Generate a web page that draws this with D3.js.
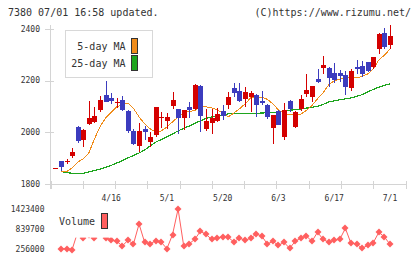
<!DOCTYPE html>
<html>
<head>
<meta charset="utf-8">
<script src="https://cdn.jsdelivr.net/npm/d3@7"></script>
<style>
body { margin: 0; background: #fff; }
svg { display: block; }
text { font-family: "DejaVu Sans Mono", monospace; fill: #333; }
</style>
</head>
<body>
<div id="chart"></div>
<script>
// one entry per trading day, index 0 = first (doji) candle
const opens  = [1863,1888,1885,1909,2020,1971,2034,2042,2087,2145,2134,2113,2126,2084,2006,1949,2014,1962,1990,2057,2045,2104,2091,2055,2100,2091,2180,2014,2038,2046,2083,2106,2172,2160,2129,2137,2145,2122,2106,2017,2083,1983,2122,2021,2092,2150,2138,2206,2250,2249,2230,2230,2222,2172,2253,2257,2272,2253,2323,2384,2338]
const highs  = [1863,1891,1898,1939,2025,2012,2122,2097,2139,2199,2154,2132,2139,2086,2015,2038,2025,2001,2100,2080,2074,2158,2092,2088,2119,2186,2184,2091,2091,2096,2106,2158,2190,2190,2175,2160,2147,2160,2110,2069,2087,2115,2126,2081,2144,2226,2181,2245,2296,2253,2269,2242,2238,2245,2280,2276,2273,2293,2384,2404,2415]
const lows   = [1863,1853,1880,1900,1958,1945,2030,2036,2080,2117,2109,2093,2084,1997,1950,1926,1971,1945,1984,2016,2014,2091,1993,2010,2055,2087,2001,2006,1993,2042,2049,2091,2135,2119,2097,2080,2061,2106,2052,1957,2027,1971,2079,2017,2084,2136,2119,2192,2226,2177,2189,2196,2145,2160,2226,2213,2234,2245,2303,2323,2323]
const closes = [1863,1868,1889,1924,1968,2010,2057,2064,2126,2119,2123,2119,2085,2007,1957,2006,2000,1984,2097,2061,2061,2126,2055,2087,2087,2184,2065,2046,2055,2072,2065,2135,2151,2123,2158,2153,2106,2114,2060,2068,2029,2087,2091,2078,2128,2164,2180,2195,2261,2212,2203,2218,2177,2238,2245,2226,2238,2292,2381,2330,2373]

const ma5  = [null,1849,1849,1863,1886,1898,1921,1975,2022,2056,2077,2099,2108,2113,2093,2060,2033,2014,2002,2006,2021,2041,2060,2075,2081,2085,2099,2099,2095,2087,2075,2060,2075,2091,2110,2133,2138,2136,2128,2110,2087,2073,2070,2070,2070,2085,2104,2130,2153,2184,2199,2206,2213,2211,2211,2216,2226,2245,2280,2298,2322]
const ma25 = [null,1849,1846,1842,1842,1842,1848,1853,1858,1865,1873,1882,1891,1902,1911,1921,1932,1948,1963,1973,1983,1994,2006,2016,2025,2035,2045,2054,2060,2065,2068,2072,2074,2074,2074,2074,2074,2075,2076,2077,2079,2083,2086,2088,2090,2094,2097,2101,2108,2118,2122,2126,2130,2133,2139,2146,2157,2166,2175,2182,2187]

const volumes = [null,279000,279000,256000,760000,587000,680000,587000,720000,590000,521000,492000,357000,521000,415000,991000,463000,415000,510000,463000,279000,683000,1423400,366000,423000,550000,781000,694000,550000,596000,616000,607000,472000,587000,521000,578000,703000,645000,415000,492000,377000,463000,290000,492000,587000,645000,492000,752000,550000,463000,521000,550000,867000,434000,415000,290000,377000,452000,752000,616000,406000]

const dateLabels = ["4/16","5/1","5/20","6/3","6/17","7/1"]
const dateIndex = [10,20,30,40,50,60]
const priceTicks = [1800,2000,2200,2400]
const volumeTicks = [256000,839700,1423400]

const width = 420
const height = 259
const red = "#d40000"
const blue = "#3c3cbe"
const orange = "#f08c1a"
const green = "#1ea51e"
const volColor = "#ff5f5f"

const svg = d3.select("#chart").append("svg").attr("width", width).attr("height", height)

const x = d3.scaleLinear().domain([0, opens.length - 1]).range([55.4, 390])
const y = d3.scaleLinear().domain([1800, 2400]).range([184.3, 28.8])
const yv = d3.scaleLinear().domain([256000, 1423400]).range([249.5, 209])
const grid = d3.scaleLinear().domain([0, 11]).range([50.5, 405.5])

// header
svg.append("text").attr("x", 8).attr("y", 16).style("font-size", "10px").text("7380 07/01 16:58 updated.")
svg.append("text").attr("x", 411).attr("y", 16).attr("text-anchor", "end").style("font-size", "10px").text("(C)https://www.rizumu.net/")

// axes
const axes = svg.append("g").attr("stroke", "#d4d4d4").attr("shape-rendering", "crispEdges")
axes.append("line").attr("x1", 50.5).attr("x2", 50.5).attr("y1", 25).attr("y2", 189)
axes.append("line").attr("x1", 45).attr("x2", 406).attr("y1", Math.round(y(1800)) + 0.5).attr("y2", Math.round(y(1800)) + 0.5)
axes.selectAll(".yt").data(priceTicks).enter().append("line")
    .attr("x1", 45).attr("x2", 54).attr("y1", d => Math.round(y(d)) + 0.5).attr("y2", d => Math.round(y(d)) + 0.5)
axes.selectAll(".xt").data(d3.range(12)).enter().append("line")
    .attr("x1", d => Math.round(grid(d)) + 0.5).attr("x2", d => Math.round(grid(d)) + 0.5).attr("y1", 181).attr("y2", 189)

svg.selectAll(".ylab").data(priceTicks).enter().append("text")
    .attr("x", 40).attr("y", d => y(d)).attr("dy", "0.35em").attr("text-anchor", "end").style("font-size", "8px").text(d => d)
svg.selectAll(".xlab").data(dateLabels).enter().append("text")
    .attr("x", (d, i) => x(dateIndex[i])).attr("y", 201).attr("text-anchor", "middle").style("font-size", "8px").text(d => d)

// moving averages
const maLine = d3.line().defined(d => d != null).x((d, i) => x(i)).y(d => y(d))
svg.append("path").datum(ma25).attr("d", maLine).attr("fill", "none").attr("stroke", green).attr("stroke-width", 1.2).attr("shape-rendering", "crispEdges")
svg.append("path").datum(ma5).attr("d", maLine).attr("fill", "none").attr("stroke", orange).attr("stroke-width", 1).attr("shape-rendering", "crispEdges")

// candles
const candles = svg.append("g").attr("shape-rendering", "crispEdges")
const idx = d3.range(opens.length)
candles.selectAll(".wick").data(idx).enter().append("line")
    .attr("x1", i => Math.round(x(i)) + 0.5).attr("x2", i => Math.round(x(i)) + 0.5)
    .attr("y1", i => y(highs[i])).attr("y2", i => y(lows[i]))
    .attr("stroke", i => closes[i] >= opens[i] ? red : blue)
candles.selectAll(".body").data(idx).enter().append("rect")
    .attr("x", i => Math.round(x(i)) - 2).attr("width", 5)
    .attr("y", i => y(Math.max(opens[i], closes[i])))
    .attr("height", i => Math.max(1, y(Math.min(opens[i], closes[i])) - y(Math.max(opens[i], closes[i]))))
    .attr("fill", i => closes[i] >= opens[i] ? red : blue)

// price legend
svg.append("rect").attr("x", 65.5).attr("y", 30.5).attr("width", 87).attr("height", 47)
    .attr("fill", "#fff").attr("stroke", "#d8d8d8").attr("shape-rendering", "crispEdges")
const legend = [{label: "5-day MA", color: orange, y: 46.5}, {label: "25-day MA", color: green, y: 63.5}]
legend.forEach(d => {
    svg.append("text").attr("x", 125.5).attr("y", d.y).attr("dy", "0.35em").attr("text-anchor", "end").style("font-size", "10px").text(d.label)
    svg.append("rect").attr("x", 131.5).attr("y", d.y - 8.5).attr("width", 5.5).attr("height", 15)
        .attr("fill", d.color).attr("stroke", "#333").attr("shape-rendering", "crispEdges")
})

// volume
const volLine = d3.line().defined(d => d != null).x((d, i) => x(i)).y(d => yv(d))
svg.append("path").datum(volumes).attr("d", volLine).attr("fill", "none").attr("stroke", volColor).attr("stroke-width", 1)
svg.selectAll(".vpt").data(volumes.map((v, i) => [i, v]).filter(d => d[1] != null)).enter().append("path")
    .attr("d", "M0,-3.5L3.5,0L0,3.5L-3.5,0Z")
    .attr("transform", d => `translate(${Math.round(x(d[0]))},${Math.round(yv(d[1]))})`)
    .attr("fill", volColor)

svg.selectAll(".vlab").data(volumeTicks).enter().append("text")
    .attr("x", 44.5).attr("y", d => yv(d)).attr("dy", "0.35em").attr("text-anchor", "end").style("font-size", "8px").text(d => d)

svg.append("rect").attr("x", 54).attr("y", 204).attr("width", 58).attr("height", 33.6).attr("fill", "#fff")
svg.append("text").attr("x", 59).attr("y", 221.7).attr("dy", "0.35em").style("font-size", "10px").text("Volume")
svg.append("rect").attr("x", 101.5).attr("y", 213.5).attr("width", 5.5).attr("height", 15)
    .attr("fill", volColor).attr("stroke", "#333").attr("shape-rendering", "crispEdges")
</script>
</body>
</html>
